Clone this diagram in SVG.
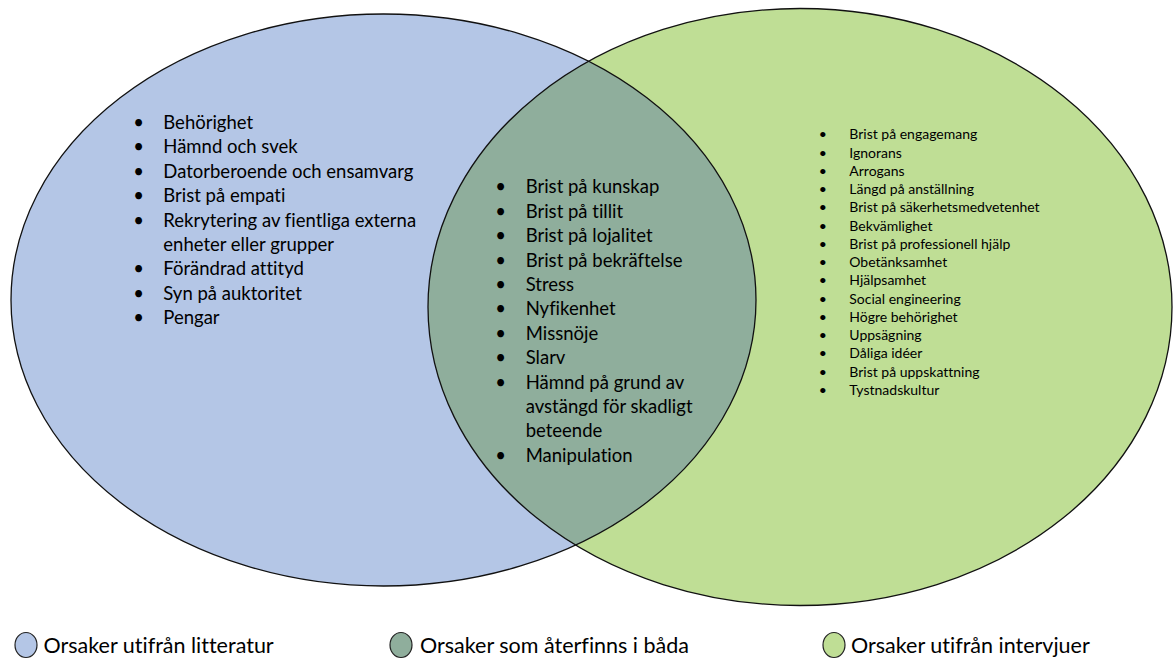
<svg xmlns="http://www.w3.org/2000/svg" width="1175" height="660" viewBox="0 0 1175 660">
  <style>
    .lbl { font-family: Lato, "Liberation Sans", sans-serif; fill: #000; font-variant-ligatures: none; font-feature-settings: "liga" 0, "clig" 0; }
    .big { font-size: 18.5px; }
    .small { font-size: 14px; }
    .leg { font-size: 21.5px; }
    .edge { fill: none; stroke: #111; stroke-width: 1.3; }
  </style>
  <defs>
    <clipPath id="clip-left">
      <ellipse cx="383.5" cy="300" rx="372.5" ry="286"/>
    </clipPath>
  </defs>
  <rect width="1175" height="660" fill="#ffffff"/>

  <!-- literature set -->
  <g id="literature">
    <ellipse cx="383.5" cy="300" rx="372.5" ry="286" fill="#b4c6e6"/>
  </g>

  <!-- interview set -->
  <g id="interviews">
    <ellipse cx="800" cy="307" rx="372" ry="298.5" fill="#bfde95"/>
  </g>

  <!-- overlap of both sets -->
  <g id="overlap">
    <ellipse cx="800" cy="307" rx="372" ry="298.5" fill="#8fae9c" clip-path="url(#clip-left)"/>
  </g>

  <!-- outlines -->
  <g id="outlines">
    <ellipse class="edge" cx="383.5" cy="300" rx="372.5" ry="286"/>
    <ellipse class="edge" cx="800" cy="307" rx="372" ry="298.5"/>
  </g>

  <!-- literature-only causes -->
  <g id="literature-list" class="lbl big">
    <g text-anchor="middle">
      <text x="138.5" y="129">•</text>
      <text x="138.5" y="153.4">•</text>
      <text x="138.5" y="177.8">•</text>
      <text x="138.5" y="202.2">•</text>
      <text x="138.5" y="226.6">•</text>
      <text x="138.5" y="275.4">•</text>
      <text x="138.5" y="299.8">•</text>
      <text x="138.5" y="324.2">•</text>
    </g>
    <text x="163.3" y="129">Behörighet</text>
    <text x="163.3" y="153.4">Hämnd och svek</text>
    <text x="163.3" y="177.8">Datorberoende och ensamvarg</text>
    <text x="163.3" y="202.2">Brist på empati</text>
    <text x="163.3" y="226.6">Rekrytering av fientliga externa</text>
    <text x="163.3" y="251">enheter eller grupper</text>
    <text x="163.3" y="275.4">Förändrad attityd</text>
    <text x="163.3" y="299.8">Syn på auktoritet</text>
    <text x="163.3" y="324.2">Pengar</text>
  </g>

  <!-- causes found in both -->
  <g id="overlap-list" class="lbl big">
    <g text-anchor="middle">
      <text x="500.7" y="193.3">•</text>
      <text x="500.7" y="217.7">•</text>
      <text x="500.7" y="242.1">•</text>
      <text x="500.7" y="266.5">•</text>
      <text x="500.7" y="290.9">•</text>
      <text x="500.7" y="315.3">•</text>
      <text x="500.7" y="339.7">•</text>
      <text x="500.7" y="364.1">•</text>
      <text x="500.7" y="388.5">•</text>
      <text x="500.7" y="461.7">•</text>
    </g>
    <text x="525.7" y="193.3">Brist på kunskap</text>
    <text x="525.7" y="217.7">Brist på tillit</text>
    <text x="525.7" y="242.1">Brist på lojalitet</text>
    <text x="525.7" y="266.5">Brist på bekräftelse</text>
    <text x="525.7" y="290.9">Stress</text>
    <text x="525.7" y="315.3">Nyfikenhet</text>
    <text x="525.7" y="339.7">Missnöje</text>
    <text x="525.7" y="364.1">Slarv</text>
    <text x="525.7" y="388.5">Hämnd på grund av</text>
    <text x="525.7" y="412.9">avstängd för skadligt</text>
    <text x="525.7" y="437.3">beteende</text>
    <text x="525.7" y="461.7">Manipulation</text>
  </g>

  <!-- interview-only causes -->
  <g id="interview-list" class="lbl small">
    <g text-anchor="middle">
      <text x="822.7" y="139.3">•</text>
      <text x="822.7" y="157.6">•</text>
      <text x="822.7" y="175.8">•</text>
      <text x="822.7" y="194.1">•</text>
      <text x="822.7" y="212.3">•</text>
      <text x="822.7" y="230.6">•</text>
      <text x="822.7" y="248.9">•</text>
      <text x="822.7" y="267.1">•</text>
      <text x="822.7" y="285.4">•</text>
      <text x="822.7" y="303.6">•</text>
      <text x="822.7" y="321.9">•</text>
      <text x="822.7" y="340.2">•</text>
      <text x="822.7" y="358.4">•</text>
      <text x="822.7" y="376.7">•</text>
      <text x="822.7" y="394.9">•</text>
    </g>
    <text x="849.3" y="139.3">Brist på engagemang</text>
    <text x="849.3" y="157.6">Ignorans</text>
    <text x="849.3" y="175.8">Arrogans</text>
    <text x="849.3" y="194.1">Längd på anställning</text>
    <text x="849.3" y="212.3">Brist på säkerhetsmedvetenhet</text>
    <text x="849.3" y="230.6">Bekvämlighet</text>
    <text x="849.3" y="248.9">Brist på professionell hjälp</text>
    <text x="849.3" y="267.1">Obetänksamhet</text>
    <text x="849.3" y="285.4">Hjälpsamhet</text>
    <text x="849.3" y="303.6">Social engineering</text>
    <text x="849.3" y="321.9">Högre behörighet</text>
    <text x="849.3" y="340.2">Uppsägning</text>
    <text x="849.3" y="358.4">Dåliga idéer</text>
    <text x="849.3" y="376.7">Brist på uppskattning</text>
    <text x="849.3" y="394.9">Tystnadskultur</text>
  </g>

  <!-- legend -->
  <g id="legend-literature">
    <ellipse cx="26" cy="645" rx="11" ry="12.5" fill="#b4c6e6" stroke="#222" stroke-width="1.2"/>
    <text class="lbl leg" x="43.5" y="652.5">Orsaker utifrån litteratur</text>
  </g>
  <g id="legend-both">
    <ellipse cx="401" cy="645" rx="11" ry="12.5" fill="#8fae9c" stroke="#222" stroke-width="1.2"/>
    <text class="lbl leg" x="420" y="652.5">Orsaker som återfinns i båda</text>
  </g>
  <g id="legend-interviews">
    <ellipse cx="834" cy="645" rx="11" ry="12.5" fill="#bfde95" stroke="#222" stroke-width="1.2"/>
    <text class="lbl leg" x="851" y="652.5">Orsaker utifrån intervjuer</text>
  </g>
</svg>
